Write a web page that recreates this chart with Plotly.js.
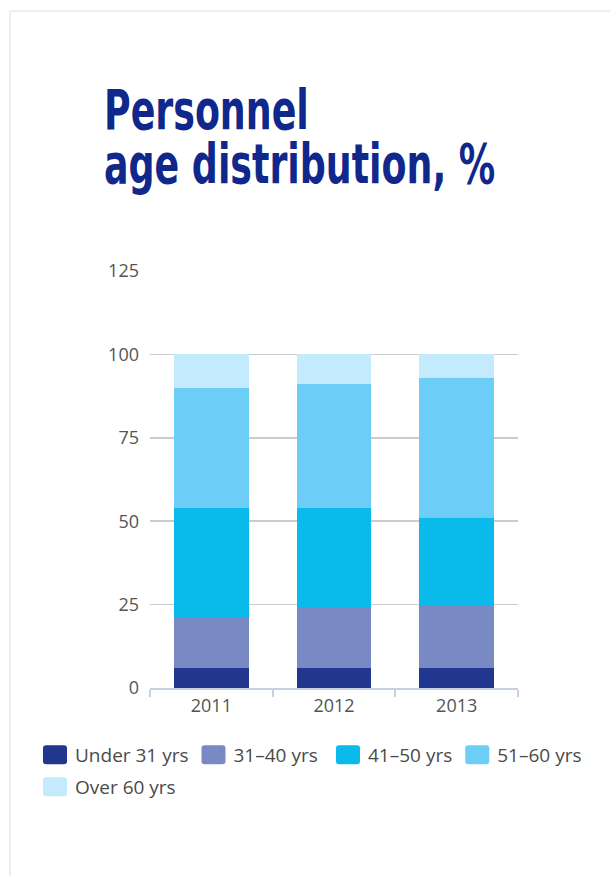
<!DOCTYPE html>
<html><head><meta charset="utf-8">
<script src="https://cdn.plot.ly/plotly-3.0.1.min.js"></script>
<style>
html,body{margin:0;padding:0;background:#fff;}
#chart{width:610px;height:876px;}
#frame{position:absolute;left:9px;top:10px;right:0;bottom:0;border-top:2px solid #eeeeee;border-left:2px solid #eeeeee;pointer-events:none;}
.gtitle{transform-box:fill-box;transform-origin:0 0;transform:scaleX(0.735);}
</style>
</head><body>
<div id="chart"></div><div id="frame"></div>
<script>
const years = ['2011', '2012', '2013'];
const groupNames = ['Under 31 yrs', '31–40 yrs', '41–50 yrs', '51–60 yrs', 'Over 60 yrs'];
const under31 = [6, 6, 6];
const age31to40 = [15, 18, 19];
const age41to50 = [33, 30, 26];
const age51to60 = [36, 37, 42];
const over60 = [10, 9, 7];
const yTicks = [0, 25, 50, 75, 100, 125];
const colors = ['#21368f', '#7889c3', '#0abaea', '#6ccdf7', '#c4ebfd'];
const legendRows = ['legend', 'legend', 'legend2', 'legend2', 'legend3'];

const seriesValues = [under31, age31to40, age41to50, age51to60, over60];
const traces = seriesValues.map((vals, i) => ({
  type: 'bar',
  name: groupNames[i],
  x: years,
  y: vals,
  legend: legendRows[i],
  marker: {color: colors[i], line: {width: 0}},
  hoverinfo: 'skip'
}));

const font = 'Open Sans, Noto Sans, sans-serif';
const legendFont = {family: font, size: 19, color: '#4a4a4a'};
function legendAt(xPx, topPx, gap) {
  return {
    orientation: 'h', traceorder: 'normal',
    xref: 'container', yref: 'container',
    x: xPx / 610, xanchor: 'left',
    y: 1 - topPx / 876, yanchor: 'top',
    font: legendFont, itemgap: gap,
    bgcolor: 'rgba(0,0,0,0)'
  };
}
const layout = {
  width: 610, height: 876,
  margin: {l: 150, r: 92, t: 271, b: 188},
  paper_bgcolor: '#ffffff', plot_bgcolor: '#ffffff',
  barmode: 'stack',
  bargap: 0.39,
  showlegend: true,
  title: {
    text: 'Personnel<br>age distribution, %',
    font: {family: 'DejaVu Sans Condensed, DejaVu Sans, sans-serif', size: 55, color: '#10288c', weight: 'bold'},
    xref: 'container', yref: 'container',
    x: 104 / 610, xanchor: 'left',
    y: 1 - 129 / 876, yanchor: 'top'
  },
  xaxis: {
    type: 'category',
    showgrid: false,
    showline: true, linecolor: '#c5d0e3', linewidth: 2,
    ticks: 'outside', tickson: 'boundaries', ticklen: 7, tickwidth: 2, tickcolor: '#c5d0e3',
    tickfont: {family: font, size: 18, color: '#555555'},
    zeroline: false
  },
  yaxis: {
    range: [0, 125],
    tickvals: yTicks,
    ticktext: yTicks.map(String),
    showgrid: true, gridcolor: '#cccccc', gridwidth: 1.5,
    zeroline: false, showline: false, ticks: '',
    ticklabelstandoff: 10,
    tickfont: {family: font, size: 18, color: '#555555'}
  },
  legend: legendAt(35, 736, 8),
  legend2: legendAt(328, 736, 12),
  legend3: legendAt(35, 768, 8)
};

Plotly.newPlot('chart', traces, layout, {displayModeBar: false, staticPlot: true}).then(gd => {
  gd.querySelectorAll('.legendpoints path').forEach(p => {
    p.setAttribute('d', 'M-9,-9.5H9A3,3 0 0 1 12,-6.5V6.5A3,3 0 0 1 9,9.5H-9A3,3 0 0 1 -12,6.5V-6.5A3,3 0 0 1 -9,-9.5Z');
  });
  const lines = gd.querySelectorAll('.gtitle tspan.line');
  if (lines.length > 1) lines[1].setAttribute('dy', '0.98em');
});
</script>
</body></html>
